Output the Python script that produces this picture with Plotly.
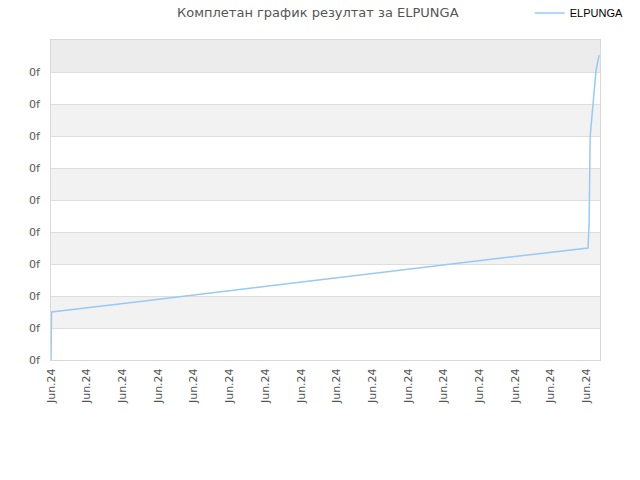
import plotly.graph_objects as go

# x: days since 1 June 2024, y: score
days = [0.0, 0.03, 5.0, 10.0, 15.0, 20.0, 25.0, 30.08, 30.14, 30.2, 30.35, 30.53, 30.7]
scores = [0.0, 1.5, 1.83, 2.17, 2.5, 2.83, 3.17, 3.5, 4.25, 7.0, 8.03, 9.06, 9.53]

tick_days = [0, 2, 4, 6, 8, 10, 12, 14, 16, 18, 20, 22, 24, 26, 28, 30]
tick_labels = ["Jun.24"] * len(tick_days)
y_ticks = [0, 1, 2, 3, 4, 5, 6, 7, 8, 9]
y_labels = ["0f"] * len(y_ticks)

series_name = "ELPUNGA"
title = "Комплетан график резултат за ELPUNGA"

fig = go.Figure()
fig.add_trace(go.Scatter(
    x=days, y=scores, mode="lines", name=series_name,
    line=dict(color="#99c9f5", width=1.5),
    showlegend=True,
))

shapes = []
for lo in range(0, 10):
    if lo == 9:
        col = "#ececec"
    elif lo % 2 == 1:
        col = "#f2f2f2"
    else:
        col = "#ffffff"
    shapes.append(dict(type="rect", xref="paper", x0=0, x1=1, yref="y", y0=lo, y1=lo + 1,
                       fillcolor=col, line=dict(width=0), layer="below"))

fig.update_layout(
    width=640, height=480,
    margin=dict(l=51, r=40, t=40, b=120, autoexpand=False),
    paper_bgcolor="white", plot_bgcolor="white",
    font=dict(family="DejaVu Sans, Verdana, sans-serif", color="#555555", size=11),
    title=dict(text=title, x=0.486, xanchor="center", xref="paper", y=0.975, yanchor="middle",
               font=dict(size=13, color="#555555")),
    shapes=shapes,
    showlegend=True,
    legend=dict(x=0.872, xanchor="left", y=1.084, yanchor="middle",
                orientation="h", bgcolor="rgba(0,0,0,0)",
                font=dict(family="Liberation Sans, Arial, sans-serif", size=11, color="#000000"),
                itemwidth=30),
    xaxis=dict(range=[0, 30.75], tickmode="array", tickvals=tick_days, ticktext=tick_labels,
               tickangle=-90, showgrid=False, zeroline=False, showline=True, mirror=True,
               linecolor="#d9d9d9", linewidth=1, ticks="", automargin=False,
               ticklabelstandoff=3,
               tickfont=dict(size=11, color="#555555")),
    yaxis=dict(range=[0, 10], tickmode="array", tickvals=y_ticks, ticktext=y_labels,
               showgrid=True, gridcolor="#dedede", gridwidth=1, zeroline=False,
               showline=True, mirror=True, linecolor="#d9d9d9", linewidth=1, ticks="",
               automargin=False, ticklabelstandoff=8,
               tickfont=dict(size=11, color="#555555")),
)

fig.write_html("out.html", config={"displayModeBar": False},
               post_script="document.body.style.margin='0';")
